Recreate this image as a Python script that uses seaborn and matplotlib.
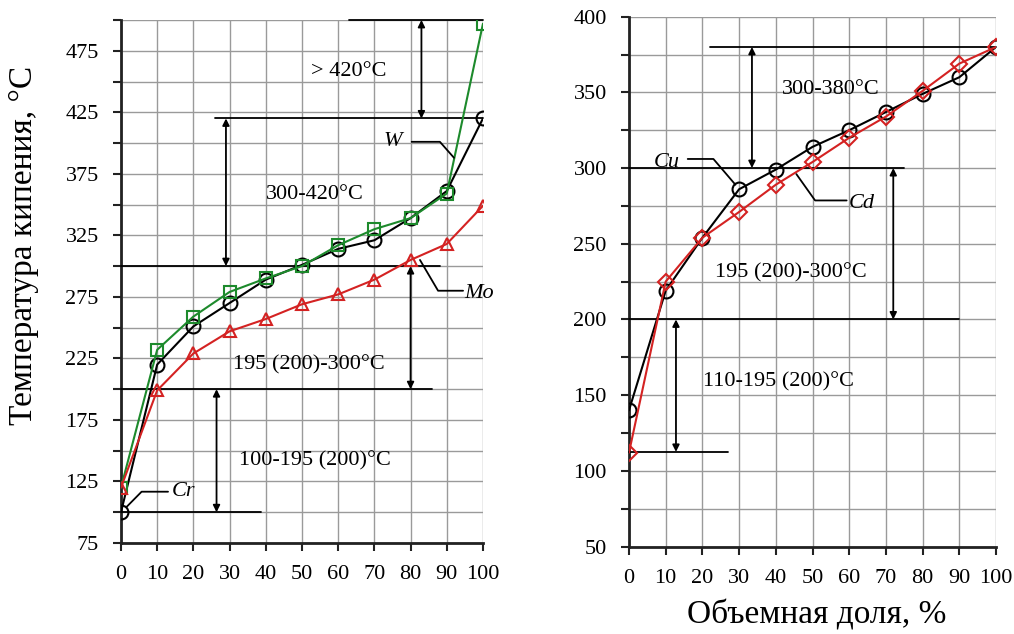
import numpy as np
import matplotlib
matplotlib.use("Agg")
import matplotlib.pyplot as plt
import seaborn as sns

sns.set_theme(style="ticks")
plt.rcParams['font.family'] = ['Liberation Serif', 'DejaVu Serif']
plt.rcParams['text.color'] = 'black'
plt.rcParams['xtick.labelcolor'] = 'black'
plt.rcParams['ytick.labelcolor'] = 'black'

# volume fraction, %
frac = [0, 10, 20, 30, 40, 50, 60, 70, 80, 90, 100]

# left panel: boiling temperature, C
cr = [100, 220, 251, 270, 289, 301, 314, 321, 339, 361, 420]
w = [120, 232, 259, 279, 290, 300, 317, 330, 339, 359, 497]
mo = [120, 199, 229, 247, 257, 269, 277, 289, 305, 318, 349]

# right panel
cu = [140, 219, 254, 286, 299, 314, 325, 337, 349, 360, 380]
cd = [112, 225, 254, 271, 289, 304, 320, 334, 351, 369, 380]

# fraction boundaries: (temperature, x from, x to)
left_bounds = [(500, 63, 100), (420, 26, 100), (300, 0, 88), (200, 0, 86), (100, 0, 38.6)]
left_arrows = [(83, 500, 420), (29, 420, 300), (80, 300, 200), (26.4, 200, 100)]
left_texts = [("> 420°C", 63, 458), ("300-420°C", 53.6, 358),
              ("195 (200)-300°C", 52, 220), ("100-195 (200)°C", 53.6, 142)]

right_bounds = [(380, 22, 100), (300, 0, 75), (200, 0, 90), (112.5, 0, 27)]
right_arrows = [(33.5, 380, 300), (72, 300, 200), (12.8, 200, 112.5)]
right_texts = [("300-380°C", 55, 352), ("195 (200)-300°C", 44, 231),
               ("110-195 (200)°C", 40.6, 158.7)]

# series labels with leader lines: text, text pos, leader points
left_labels = [("W", (75, 401), [(80.3, 401), (88.1, 401), (92, 388)]),
               ("Mo", (99, 278), [(94.5, 280), (87.6, 280), (82.6, 305)]),
               ("Cr", (17.4, 116.7), [(13, 116.7), (5.7, 116.7), (1.6, 104.5)])]
right_labels = [("Cu", (10.4, 304), [(16, 306), (23, 306), (29, 289)]),
                ("Cd", (63.5, 276.5), [(59.3, 278.6), (50.7, 278.6), (45.6, 296)])]

GREEN = "#1d8a2c"
RED = "#d42222"

fig = plt.figure(figsize=(10.14, 6.34), dpi=100)
ax1 = fig.add_axes([0.1193, 0.1435, 0.357, 0.825])
ax2 = fig.add_axes([0.6203, 0.138, 0.362, 0.8357])


def series(ax, y, marker, color, ms=9):
    sns.lineplot(x=frac, y=y, ax=ax, color=color, lw=1.5, marker=marker,
                 markersize=ms, markerfacecolor="none", markeredgecolor=color,
                 markeredgewidth=1.5, zorder=4)


def style_axes(ax, ylo, yhi, major, minor):
    ax.set_xlim(0, 100)
    ax.set_ylim(ylo, yhi)
    ax.set_xticks(range(0, 101, 10))
    ax.set_yticks(major)
    ax.set_yticks(minor, minor=True)
    ax.grid(True, which="both", color="#9a9a9a", lw=1.0)
    ax.set_axisbelow(True)
    for s in ["top", "right"]:
        ax.spines[s].set_visible(False)
    for s in ["left", "bottom"]:
        ax.spines[s].set_color("#222222")
        ax.spines[s].set_linewidth(2)
    ax.tick_params(which="both", direction="out", length=6, width=1.5,
                   color="#222222", labelsize=16, labelcolor="black")
    ax.tick_params(axis="x", pad=10)
    ax.tick_params(axis="y", pad=10)
    ax.set_xlabel("")
    ax.set_ylabel("")


def annotate(ax, bounds, arrows, texts, labels):
    for yv, x0, x1 in bounds:
        ax.plot([x0, x1], [yv, yv], color="black", lw=1.3, zorder=3, clip_on=False)
    for xv, y0, y1 in arrows:
        ax.annotate("", xy=(xv, y1), xytext=(xv, y0),
                    arrowprops=dict(arrowstyle="<|-|>", color="black", lw=1.3,
                                    mutation_scale=10, shrinkA=0, shrinkB=0))
    for t, xv, yv in texts:
        ax.text(xv, yv, t, ha="center", va="center", fontsize=16, zorder=5)
    for t, pos, pts in labels:
        ax.text(pos[0], pos[1], t, ha="center", va="center", fontsize=16,
                style="italic", zorder=5)
        px = [p[0] for p in pts]
        py = [p[1] for p in pts]
        ax.plot(px, py, color="black", lw=1.3, zorder=5, clip_on=False)


series(ax1, cr, "o", "black", 10)
series(ax1, w, "s", GREEN, 9)
series(ax1, mo, "^", RED, 9)
style_axes(ax1, 75, 500, np.arange(75, 476, 50), np.arange(100, 501, 50))
annotate(ax1, left_bounds, left_arrows, left_texts, left_labels)

series(ax2, cu, "o", "black", 10)
series(ax2, cd, "D", RED, 8)
style_axes(ax2, 50, 400, np.arange(50, 401, 50), np.arange(75, 376, 50))
annotate(ax2, right_bounds, right_arrows, right_texts, right_labels)

fig.text(24 / 1014, 1 - 245 / 634, "Температура кипения, °C", rotation=90,
         ha="center", va="center", fontsize=24)
fig.text(817 / 1014, 1 - 615 / 634, "Объемная доля, %", ha="center",
         va="center", fontsize=24)

fig.savefig("out.png", dpi=100)
